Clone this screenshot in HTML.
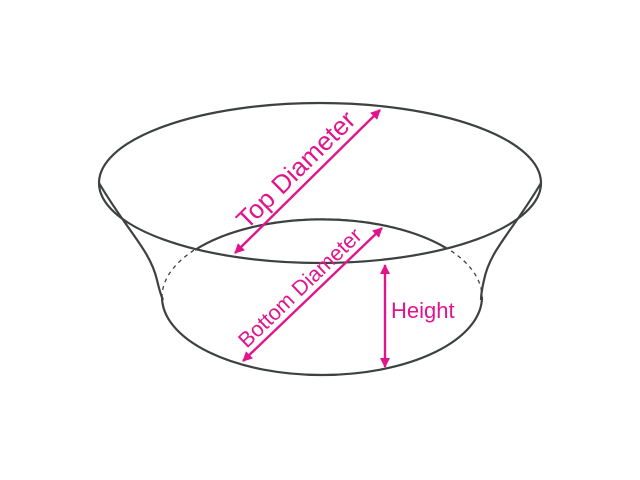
<!DOCTYPE html>
<html><head><style>html,body{margin:0;padding:0;background:#fff;}svg{display:block}</style></head>
<body>
<svg width="640" height="480" viewBox="0 0 640 480" xmlns="http://www.w3.org/2000/svg">
<defs>
<marker id="ah" markerWidth="10" markerHeight="10" refX="9" refY="5" orient="auto-start-reverse" markerUnits="userSpaceOnUse">
<path d="M0,0 L10,5 L0,10 z" fill="#e0158c"/></marker>
</defs>
<g fill="none" stroke="#3d4240" stroke-width="2.2">
<ellipse cx="320" cy="183" rx="221" ry="80"/>
<ellipse cx="322" cy="297" rx="160" ry="78" stroke-dasharray="4,4" stroke-width="1.3"/>
<path d="M162,297 A160,78 0 0 0 482,297"/>
<path d="M195,250 A160,78 0 0 1 446,248"/>
<path d="M99,183 C128,232 150,250 157,280 Q160,293 163,300"/>
<path d="M541,183 C512,232 490,250 484,280 Q481,293 481,300"/>
</g>
<g stroke="#e0158c" stroke-width="2.4" fill="none">
<line x1="235" y1="253" x2="380" y2="110" marker-start="url(#ah)" marker-end="url(#ah)"/>
<line x1="243" y1="361" x2="382" y2="228" marker-start="url(#ah)" marker-end="url(#ah)"/>
<line x1="385" y1="265" x2="385" y2="367" marker-start="url(#ah)" marker-end="url(#ah)"/>
</g>
<g fill="#e0158c" font-family="Liberation Sans, sans-serif">
<text x="0" y="0" font-size="26" text-anchor="middle" transform="translate(302,176) rotate(-44.6)">Top Diameter</text>
<text x="0" y="0" font-size="21.5" text-anchor="middle" transform="translate(305,293) rotate(-43.8)">Bottom Diameter</text>
<text x="391" y="318" font-size="22">Height</text>
</g>
</svg>
</body></html>
